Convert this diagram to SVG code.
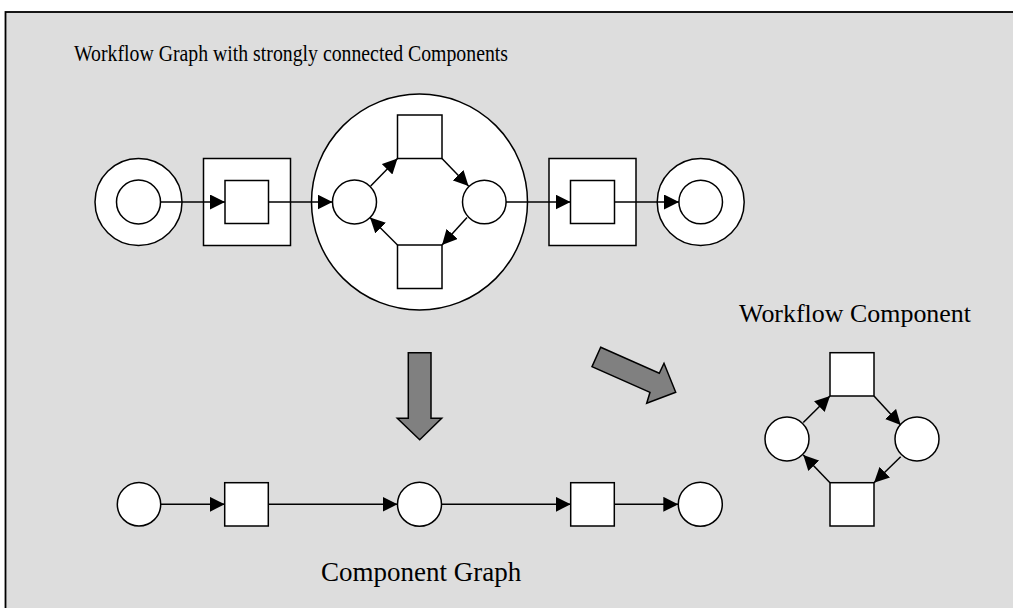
<svg xmlns="http://www.w3.org/2000/svg" width="1013" height="608" viewBox="0 0 1013 608">
<style>
.n{fill:#fff;stroke:#000;stroke-width:1.5}
.c{stroke:#000;stroke-width:1.5;fill:none;marker-end:url(#ah)}
.big{fill:#808080;stroke:#000;stroke-width:1.5;stroke-linejoin:miter}
.t{font-family:"Liberation Serif","Times New Roman",serif;fill:#000}
</style>
<defs>
<marker id="ah" markerUnits="userSpaceOnUse" markerWidth="15" markerHeight="15" viewBox="0 0 15 15" refX="15" refY="7.5" orient="auto">
<path d="M0,0 L15,7.5 L0,15 z" fill="#000"/>
</marker>
</defs>
<rect x="0" y="0" width="1013" height="608" fill="#fff"/>
<rect id="frame" x="5.5" y="12" width="1012" height="604" fill="#dddddd" stroke="#000" stroke-width="1.8"/>
<text class="t" x="74" y="61" font-size="22.5" textLength="434" lengthAdjust="spacingAndGlyphs">Workflow Graph with strongly connected Components</text>
<text class="t" x="739" y="322" font-size="26" textLength="232" lengthAdjust="spacingAndGlyphs">Workflow Component</text>
<text class="t" x="321" y="581" font-size="27">Component Graph</text>

<g id="start">
<circle class="n" cx="138.5" cy="202" r="43.5"/>
<circle class="n" cx="138.5" cy="202" r="22"/>
</g>
<g id="task1">
<rect class="n" x="203.5" y="158.5" width="87" height="87"/>
<rect class="n" x="225" y="180.5" width="43.5" height="43"/>
</g>
<g id="scc">
<circle class="n" cx="419.5" cy="202" r="108"/>
<rect class="n" x="397.5" y="115" width="44.5" height="43.5"/>
<rect class="n" x="397.5" y="245" width="44.5" height="43.5"/>
<circle class="n" cx="354.5" cy="202" r="22"/>
<circle class="n" cx="484.3" cy="202" r="21.8"/>
</g>
<g id="task2">
<rect class="n" x="549" y="158.5" width="87" height="87"/>
<rect class="n" x="570.5" y="180.5" width="44" height="43"/>
</g>
<g id="end">
<circle class="n" cx="700.7" cy="202" r="43.5"/>
<circle class="n" cx="700.7" cy="202" r="21.8"/>
</g>

<g id="down-arrow">
<polygon class="big" points="408.3,352.7 431,352.7 431,418.3 441.7,418.3 419.7,439.7 397.3,418.3 408.3,418.3"/>
</g>
<g id="diag-arrow">
<polygon class="big" points="600.7,347.3 659.3,373.3 664,363.3 675.7,392.3 646.7,403.3 650,392.3 592,366.7"/>
</g>

<g id="cg-p1"><circle class="n" cx="139" cy="504.3" r="21.7"/></g>
<g id="cg-t1"><rect class="n" x="224.7" y="482.7" width="43.6" height="43.3"/></g>
<g id="cg-p2"><circle class="n" cx="419.5" cy="504.3" r="22"/></g>
<g id="cg-t2"><rect class="n" x="570.7" y="482.7" width="43.6" height="43.3"/></g>
<g id="cg-p3"><circle class="n" cx="700.3" cy="504.3" r="22"/></g>

<g id="wc-t1"><rect class="n" x="830" y="352.7" width="44" height="43.3"/></g>
<g id="wc-t2"><rect class="n" x="830" y="482.7" width="44" height="43.3"/></g>
<g id="wc-p1"><circle class="n" cx="787" cy="439" r="22"/></g>
<g id="wc-p2"><circle class="n" cx="917" cy="439" r="22"/></g>

<g id="connectors">
<line class="c" x1="160.5" y1="202" x2="225" y2="202"/>
<line class="c" x1="268.5" y1="202" x2="332.5" y2="202"/>
<line class="c" x1="506" y1="202" x2="570.5" y2="202"/>
<line class="c" x1="614.5" y1="202" x2="679" y2="202"/>
<line class="c" x1="370.7" y1="186" x2="397.5" y2="158.5"/>
<line class="c" x1="442" y1="158.5" x2="468.5" y2="186"/>
<line class="c" x1="467" y1="217.5" x2="442" y2="245"/>
<line class="c" x1="397.5" y1="245" x2="370" y2="217.5"/>
<line class="c" x1="160.7" y1="504.3" x2="224.7" y2="504.3"/>
<line class="c" x1="268.3" y1="504.3" x2="397.5" y2="504.3"/>
<line class="c" x1="441.5" y1="504.3" x2="570.7" y2="504.3"/>
<line class="c" x1="614.3" y1="504.3" x2="678.3" y2="504.3"/>
<line class="c" x1="803.3" y1="422.5" x2="830" y2="396"/>
<line class="c" x1="874" y1="396" x2="900.7" y2="425"/>
<line class="c" x1="900.7" y1="456.7" x2="874" y2="482.7"/>
<line class="c" x1="830" y1="482.7" x2="803.3" y2="455"/>
</g>
</svg>
